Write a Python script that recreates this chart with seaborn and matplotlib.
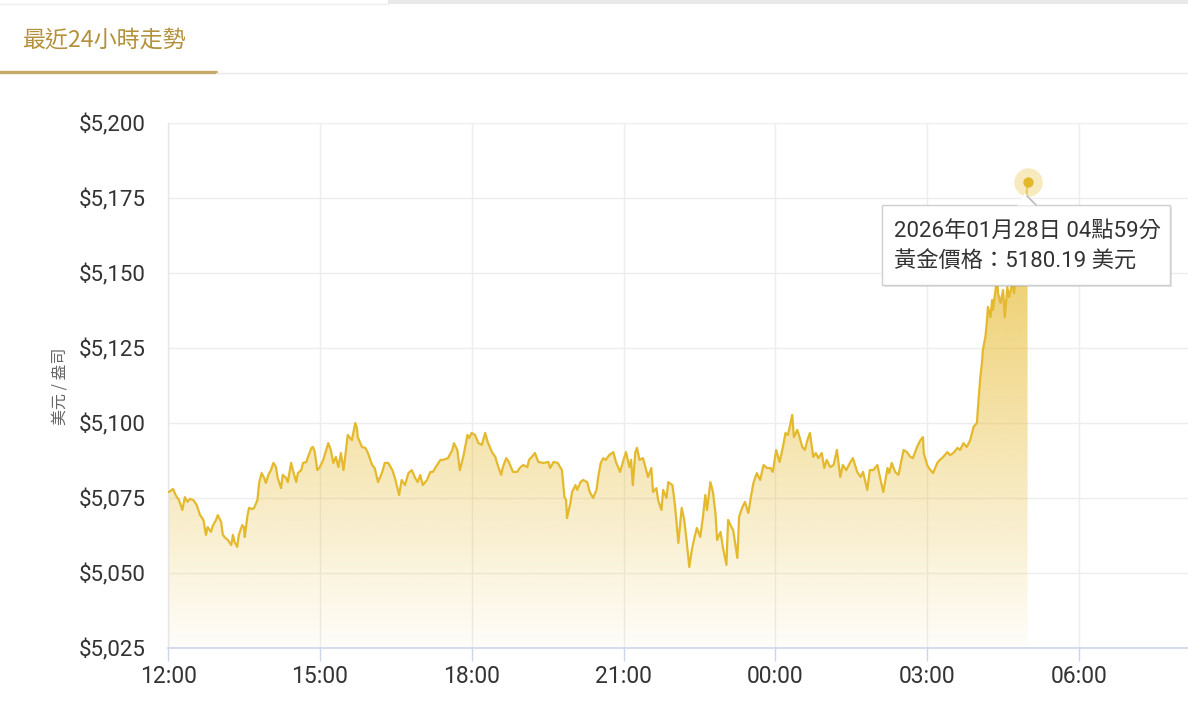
import numpy as np
import pandas as pd
import matplotlib
matplotlib.use("Agg")
import matplotlib.pyplot as plt
import seaborn as sns
from matplotlib.patches import Rectangle, Polygon
from matplotlib.lines import Line2D
from matplotlib.colors import to_rgb
from matplotlib.ticker import FuncFormatter

# ---------------- data ----------------
# minutes elapsed since 12:00 (27 Jan) and gold price in USD / oz
minutes = [
    1, 6, 9, 13, 17, 20, 23, 26, 30, 34, 38, 42, 45, 47, 51, 53, 57, 59, 63, 65,
    68, 71, 75, 77, 79, 82, 84, 88, 90, 91, 94, 96, 100, 102, 106, 108, 111, 114, 116, 119,
    122, 125, 128, 130, 134, 136, 140, 142, 146, 148, 152, 154, 158, 160, 164, 166, 170, 172, 174, 177,
    180, 184, 190, 193, 196, 199, 202, 205, 208, 211, 213, 218, 222, 224, 225, 230, 234, 237, 242, 245,
    249, 254, 257, 261, 266, 269, 274, 277, 281, 285, 289, 293, 296, 299, 302, 307, 311, 314, 319, 323,
    326, 332, 337, 339, 343, 346, 350, 355, 357, 360, 364, 368,
    372, 376, 379, 384, 388, 390, 395, 397, 401, 404, 409, 414, 417, 421, 426, 428, 433, 435, 439, 445,
    451, 453, 457, 462, 467, 470, 472, 473, 477, 479, 483, 485, 489, 492, 497, 500, 504, 508, 510, 513,
    516, 519, 523, 528, 531, 536,
    540, 543, 547, 549, 551, 554, 556, 559, 563, 566, 569, 573, 575, 579, 581, 585, 587, 591, 593, 598,
    601, 605, 609, 612, 615, 618, 621, 624, 627, 631, 634, 637, 639, 643, 646, 649, 651, 655, 658, 662,
    664, 668, 670, 675, 677, 681, 684, 688, 691, 694, 698, 702, 706, 710, 714, 717,
    721, 725, 729, 732, 735, 740, 742, 746, 748, 752, 755, 758, 761, 765, 768, 771, 775, 778, 781, 785,
    789, 793, 797, 800, 804, 809, 812, 817, 821, 824, 829, 832, 836, 841, 844, 848, 853, 855, 858, 862,
    866, 872, 876, 880, 883, 888, 892, 895, 896, 900, 902,
    907, 912, 915, 919, 924, 927, 931, 936, 939, 943, 947, 951, 955, 959, 960, 963, 965, 966, 969, 971,
    972, 975, 977, 978, 981, 983, 984, 987, 990, 992, 995, 997, 1001, 1003, 1007, 1010, 1014, 1019,
]
prices = [
    5077.0, 5078.0, 5076.0, 5074.3, 5071.0, 5075.3, 5073.7, 5074.7, 5074.3, 5072.7,
    5069.3, 5067.7, 5062.7, 5065.3, 5063.7, 5065.7, 5067.7, 5069.3, 5067.0, 5062.7,
    5061.7, 5061.0, 5059.3, 5062.7, 5060.3, 5058.7, 5062.7, 5066.0, 5065.3, 5062.0,
    5068.7, 5071.7, 5071.3, 5071.7, 5074.3, 5080.0, 5083.3, 5081.7, 5080.0, 5082.7,
    5084.3, 5086.7, 5085.3, 5081.7, 5078.3, 5082.7, 5081.7, 5080.3, 5086.7, 5084.3,
    5080.3, 5083.3, 5084.3, 5086.7, 5087.0, 5088.7, 5091.7, 5092.0, 5090.3, 5084.3,
    5085.3, 5087.7, 5093.3, 5091.0, 5086.7, 5088.7, 5085.3, 5090.0, 5084.3, 5091.0,
    5096.0, 5094.3, 5100.0, 5098.3, 5095.3, 5092.0, 5091.7, 5090.0, 5086.0, 5085.0,
    5080.3, 5083.7, 5086.7, 5086.7, 5084.3, 5081.7, 5076.0, 5081.0, 5079.3, 5083.3,
    5084.3, 5081.7, 5080.3, 5082.7, 5079.3, 5081.0, 5083.7, 5083.7, 5086.0, 5087.7,
    5087.7, 5088.3, 5091.0, 5093.3, 5091.0, 5084.3, 5088.7, 5096.0, 5095.0, 5096.7,
    5096.0, 5093.3,
    5092.7, 5096.7, 5093.7, 5090.3, 5088.7, 5086.7, 5082.7, 5085.3, 5088.3, 5087.0,
    5083.7, 5083.7, 5085.0, 5086.0, 5085.3, 5087.7, 5089.3, 5090.0, 5087.0, 5086.7,
    5087.0, 5085.0, 5087.0, 5086.7, 5084.3, 5075.3, 5074.3, 5068.3, 5073.3, 5077.0,
    5079.3, 5077.7, 5080.3, 5081.0, 5080.3, 5077.0, 5075.0, 5077.7, 5082.0, 5086.7,
    5088.3, 5087.7, 5089.3, 5090.3, 5087.0, 5083.7,
    5087.7, 5090.3, 5085.3, 5087.7, 5079.3, 5090.3, 5091.7, 5087.7, 5088.3, 5085.3,
    5082.0, 5085.0, 5077.0, 5078.3, 5074.3, 5071.0, 5077.7, 5075.0, 5080.3, 5079.3,
    5072.7, 5060.0, 5071.7, 5067.7, 5060.3, 5052.0, 5057.7, 5061.7, 5065.0, 5062.0,
    5068.3, 5076.0, 5071.0, 5080.3, 5077.0, 5070.0, 5061.0, 5063.7, 5058.3, 5052.7,
    5067.7, 5065.3, 5064.3, 5055.0, 5068.7, 5072.0, 5073.7, 5070.0, 5075.3, 5080.0,
    5083.3, 5081.0, 5086.0, 5085.0, 5085.0, 5083.7,
    5091.0, 5087.0, 5092.0, 5096.7, 5096.0, 5102.7, 5095.3, 5097.7, 5096.0, 5092.0,
    5091.0, 5094.3, 5096.7, 5088.7, 5090.0, 5088.3, 5090.0, 5085.0, 5087.7, 5085.3,
    5086.0, 5091.0, 5082.0, 5086.0, 5084.3, 5087.0, 5088.3, 5083.7, 5082.0, 5083.7,
    5077.7, 5084.3, 5084.3, 5086.0, 5082.0, 5077.0, 5085.0, 5083.3, 5086.7, 5083.7,
    5082.7, 5091.0, 5090.3, 5088.7, 5088.3, 5092.0, 5094.3, 5095.3, 5090.0, 5086.0,
    5085.0,
    5083.3, 5086.7, 5087.7, 5088.7, 5090.3, 5089.3, 5090.0, 5091.7, 5091.0, 5093.3,
    5092.0, 5094.3, 5098.7, 5100.0, 5104.3, 5115.3, 5120.0, 5124.3, 5128.7, 5134.3,
    5138.7, 5135.3, 5141.0, 5137.7, 5144.3, 5148.7, 5143.3, 5140.0, 5144.3, 5135.3,
    5145.3, 5142.0, 5146.7, 5143.3, 5157.7, 5152.0, 5163.3, 5180.19,
]
y_ticks = [5025, 5050, 5075, 5100, 5125, 5150, 5175, 5200]
x_tick_minutes = [0, 180, 360, 540, 720, 900, 1080]
x_tick_labels = ["12:00", "15:00", "18:00", "21:00", "00:00", "03:00", "06:00"]
title_text = "最近24小時走勢"
y_label_text = "美元 / 盎司"
tooltip_time = "2026年01月28日 04點59分"
tooltip_price = "黃金價格：5180.19 美元"

df = pd.DataFrame({"minute": minutes, "price": prices})

# ---------------- style ----------------
sns.set_theme(style="white")
plt.rcParams["font.family"] = ["Roboto", "Noto Sans CJK TC", "DejaVu Sans"]
CJK = ["Noto Sans CJK TC", "DejaVu Sans"]

W, H = 1188, 708
fig = plt.figure(figsize=(W / 100, H / 100), dpi=100)
fig.patch.set_facecolor("white")

def fx(px):
    return px / W

def fy(py):
    return 1 - py / H

ax = fig.add_axes([fx(168), fy(648), (1188 - 168) / W, (648 - 123) / H])
ax.set_facecolor("white")

line_color = "#E4B92E"
fill_rgb = to_rgb("#E8BE3C")
ymin, ymax = 5025, 5200
xmax = 1080 * (1188 - 168) / (1079 - 168)

x = df["minute"].to_numpy()
y = df["price"].to_numpy()

# gradient area under the line
verts = [(x[0], ymin)] + list(zip(x, y)) + [(x[-1], ymin)]
poly = Polygon(verts, closed=True, transform=ax.transData, fc="none", ec="none")
ax.add_patch(poly)
g = np.linspace(0, 1, 256).reshape(-1, 1)
rgba = np.zeros((256, 1, 4))
rgba[..., 0], rgba[..., 1], rgba[..., 2] = fill_rgb
rgba[..., 3] = 0.03 + 0.85 * g
im = ax.imshow(rgba, extent=[x[0], x[-1], ymin, y.max()], origin="lower",
               aspect="auto", zorder=1, interpolation="bilinear")
im.set_clip_path(poly)

sns.lineplot(data=df, x="minute", y="price", color=line_color, linewidth=1.6,
             ax=ax, zorder=3)

ax.set_xlim(0, xmax)
ax.set_ylim(ymin, ymax)
ax.set_xticks(x_tick_minutes)
ax.set_xticklabels(x_tick_labels)
ax.set_yticks(y_ticks)
ax.yaxis.set_major_formatter(FuncFormatter(lambda v, p: f"${v:,.0f}"))
ax.set_xlabel("")
ax.set_ylabel("")
ax.grid(True, color="#EDEDED", linewidth=1, zorder=0)
ax.set_axisbelow(True)
for s in ["top", "right"]:
    ax.spines[s].set_visible(False)
ax.spines["left"].set_color("#E6E6E6")
ax.spines["left"].set_linewidth(1)
ax.spines["bottom"].set_color("#CCD6EB")
ax.spines["bottom"].set_linewidth(1.2)
ax.tick_params(axis="x", length=9, width=1, color="#CCD6EB", pad=3,
               labelsize=16.5, labelcolor="#333333", direction="out", bottom=True)
ax.tick_params(axis="y", length=0, pad=16, labelsize=16, labelcolor="#333333", left=True)

# hovered point
ax.scatter([x[-1]], [y[-1]], s=420, color="#F2DA8A", alpha=0.55, lw=0, zorder=12, clip_on=False)
ax.scatter([x[-1]], [y[-1]], s=55, color="#E3B82C", lw=0, zorder=13, clip_on=False)

# tooltip
fig.add_artist(Rectangle((fx(884), fy(287)), 288 / W, 80 / H, transform=fig.transFigure,
                         fc="#000000", alpha=0.10, ec="none", zorder=20))
fig.add_artist(Rectangle((fx(882), fy(285)), 288 / W, 80 / H, transform=fig.transFigure,
                         fc="white", ec="#CFCFCF", lw=1, zorder=21))
fig.add_artist(Polygon([(fx(1025), fy(193)), (fx(1017), fy(205.5)), (fx(1036), fy(205.5))],
                       closed=True, transform=fig.transFigure, fc="white", ec="none", zorder=22))
fig.add_artist(Line2D([fx(1027), fx(1036)], [fy(196), fy(205)], transform=fig.transFigure,
                      color="#BBBBBB", lw=1.2, zorder=22))
fig.text(fx(894), fy(232), tooltip_time, fontsize=16, color="#333333", va="center",
         ha="left", zorder=23)
fig.text(fx(894), fy(262), tooltip_price, fontsize=16, color="#333333", va="center",
         ha="left", zorder=23)

# header tab
fig.text(fx(22), fy(40), title_text, fontsize=16.6, color="#B3913A", va="center", ha="left",
         family=CJK)
fig.add_artist(Line2D([0, fx(216)], [fy(71.5), fy(71.5)], transform=fig.transFigure,
                      color="#C7A967", lw=2.4))
fig.add_artist(Line2D([fx(216), 1], [fy(73), fy(73)], transform=fig.transFigure,
                      color="#E8E8E8", lw=1))
fig.add_artist(Rectangle((fx(388), fy(4)), (W - 388) / W, 4 / H, transform=fig.transFigure,
                         fc="#E9E9E9", ec="none"))
fig.add_artist(Line2D([0, fx(388)], [fy(3.5), fy(3.5)], transform=fig.transFigure,
                      color="#EFEFEF", lw=1))

# y axis title
fig.text(fx(60), fy(386), y_label_text, rotation=90, fontsize=11.5, color="#666666",
         va="center", ha="center", family=CJK)

fig.savefig("out.png", dpi=100, facecolor="white")
